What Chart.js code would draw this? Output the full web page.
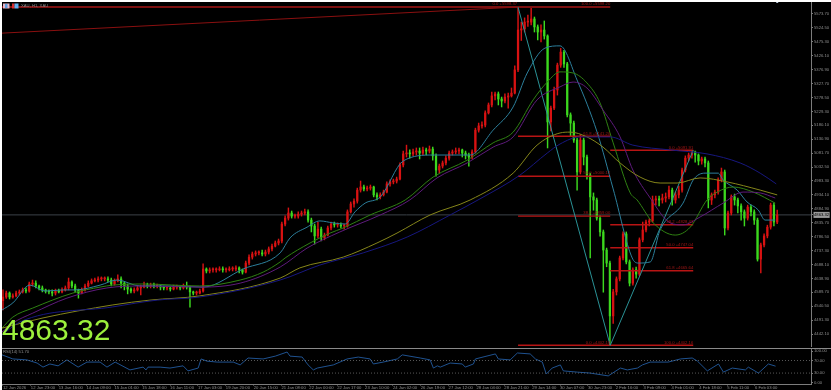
<!DOCTYPE html>
<html>
<head>
<meta charset="utf-8">
<title>XAU H1</title>
<script src="https://cdn.jsdelivr.net/npm/chart.js@4/dist/chart.umd.min.js"></script>
<style>
html, body { margin: 0; padding: 0; background: #fff; overflow: hidden; }
#frame { position: absolute; left: 2px; top: 2px; width: 829px; height: 388px; background: #000; }
#main-wrap { position: absolute; left: 0; top: 0; width: 829px; height: 345px; }
#rsi-wrap { position: absolute; left: 0; top: 347px; width: 829px; height: 41px; }
.sep { position: absolute; left: 0; top: 345.5px; width: 829px; height: 1.5px; background: #8a8a8a; }
</style>
</head>
<body>
<div id="frame">
    <div id="main-wrap"><canvas id="main-chart" width="829" height="345"></canvas></div>
    <div class="sep"></div>
    <div id="rsi-wrap"><canvas id="rsi-chart" width="829" height="41"></canvas></div>
</div>
<script>
// one candle per slot
const opens = [4560,4573,4587,4573,4577,4587,4591,4598,4594,4619,4622,4612,4605,4598,4594,4591,4587,4594,4591,4598,
4605,4626,4612,4598,4587,4598,4612,4622,4630,4633,4637,4637,4637,4633,4619,4630,4637,4622,4612,4601,
4594,4598,4605,4608,4615,4612,4615,4612,4612,4608,4605,4605,4601,4608,4608,4605,4612,4608,4591,4587,
4587,4594,4672,4665,4669,4669,4669,4672,4669,4669,4672,4672,4676,4669,4661,4693,4714,4725,4729,4729,
4725,4732,4743,4753,4764,4771,4831,4852,4870,4859,4859,4866,4870,4874,4845,4824,4789,4813,4782,4792,
4817,4831,4828,4828,4824,4824,4874,4902,4912,4951,4962,4955,4958,4962,4934,4927,4934,4944,4973,4980,
4983,4990,5040,5079,5082,5079,5086,5089,5082,5093,5089,5096,5072,5022,5036,5047,5064,5082,5086,5089,
5093,5082,5075,5068,5086,5163,5178,5181,5224,5252,5284,5291,5273,5266,5280,5284,5294,5376,5517,5521,
5545,5545,5556,5528,5510,5517,5496,5192,5241,5305,5393,5439,5397,5217,5188,5128,5015,5128,5068,5004,
4927,4916,4852,4803,4739,4693,4506,4591,4637,4711,4796,4697,4622,4669,4654,4775,4810,4838,4842,4916,
4920,4916,4923,4927,4951,4916,4934,4951,5022,5064,5075,5086,5075,5054,5061,5047,4916,4934,4944,4987,
5015,4817,4870,4927,4916,4895,4874,4852,4891,4874,4845,4707,4757,4789,4820,4898,4838];
const highs = [4598,4594,4591,4584,4594,4598,4605,4605,4626,4633,4630,4615,4612,4601,4598,4598,4601,4601,4605,4612,
4640,4630,4619,4601,4605,4619,4630,4637,4640,4644,4644,4644,4644,4640,4637,4651,4644,4626,4619,4605,
4605,4612,4615,4626,4622,4622,4622,4619,4615,4612,4612,4608,4615,4615,4612,4619,4626,4612,4594,4594,
4601,4690,4676,4676,4676,4676,4680,4680,4676,4680,4680,4683,4680,4672,4700,4722,4732,4736,4736,4739,
4739,4750,4760,4771,4778,4838,4860,4888,4877,4866,4874,4877,4884,4881,4852,4831,4838,4820,4799,4824,
4838,4838,4835,4835,4831,4881,4909,4920,4958,4983,4969,4965,4969,4965,4941,4941,4951,4980,4987,4990,
4997,5047,5089,5110,5093,5096,5100,5100,5103,5100,5107,5103,5079,5043,5054,5072,5089,5093,5100,5100,
5096,5089,5082,5093,5170,5188,5192,5231,5259,5298,5298,5298,5280,5291,5294,5312,5390,5598,5545,5560,
5570,5598,5563,5535,5535,5549,5500,5248,5315,5400,5452,5445,5403,5224,5195,5135,5146,5135,5075,5011,
4941,4923,4860,4810,4746,4700,4600,4644,4718,4803,4803,4704,4676,4679,4782,4838,4845,4849,4930,4930,
4930,4937,4941,4965,4958,4944,4965,5029,5072,5082,5092,5089,5079,5068,5068,5054,4941,4951,4994,5029,
5022,4877,4934,4937,4923,4902,4881,4898,4898,4881,4852,4764,4796,4827,4905,4905,4880];
const lows = [4527,4568,4566,4569,4573,4580,4587,4587,4590,4612,4605,4598,4591,4587,4584,4577,4580,4587,4587,4594,
4598,4605,4591,4569,4584,4594,4608,4619,4626,4626,4630,4630,4626,4612,4615,4626,4605,4598,4584,4587,
4587,4594,4580,4605,4605,4605,4605,4605,4598,4598,4598,4594,4598,4601,4598,4601,4601,4537,4580,4580,
4584,4590,4658,4658,4661,4661,4665,4661,4661,4665,4665,4665,4658,4654,4658,4686,4707,4718,4722,4718,
4718,4725,4736,4750,4757,4764,4824,4845,4852,4852,4852,4859,4863,4838,4803,4760,4782,4771,4775,4789,
4810,4820,4820,4817,4813,4820,4870,4891,4905,4944,4948,4948,4951,4927,4916,4920,4930,4941,4965,4973,
4976,4987,5033,5068,5064,5072,5075,5061,5075,5075,5082,5057,5000,5011,5029,5040,5057,5075,5079,5079,
5068,5061,5036,5061,5082,5156,5170,5174,5220,5245,5270,5252,5245,5259,5241,5280,5291,5370,5480,5510,
5530,5535,5510,5482,5475,5485,5100,5160,5235,5287,5385,5385,5210,5140,5120,4951,5008,5040,4990,4711,
4880,4845,4788,4590,4680,4402,4480,4580,4630,4704,4690,4612,4615,4640,4648,4768,4803,4824,4838,4898,
4895,4905,4909,4920,4898,4905,4923,4944,5015,5054,5064,5050,5040,5043,5033,4888,4900,4923,4937,4980,
4792,4810,4863,4898,4870,4845,4824,4845,4860,4830,4700,4658,4750,4782,4813,4824,4832];
const closes = [4573,4587,4573,4577,4587,4591,4598,4594,4619,4622,4612,4605,4598,4594,4591,4587,4594,4591,4598,4605,
4626,4612,4598,4587,4598,4612,4622,4630,4633,4637,4637,4637,4633,4619,4630,4637,4622,4612,4601,4594,
4598,4605,4608,4615,4612,4615,4612,4612,4608,4605,4605,4601,4608,4608,4605,4612,4608,4591,4587,4587,
4594,4672,4665,4669,4669,4669,4672,4669,4669,4672,4672,4676,4669,4661,4693,4714,4725,4729,4729,4725,
4732,4743,4753,4764,4771,4831,4852,4870,4859,4859,4866,4870,4874,4845,4824,4789,4813,4782,4792,4817,
4831,4828,4828,4824,4824,4874,4902,4912,4951,4962,4955,4958,4962,4934,4927,4934,4944,4973,4980,4983,
4990,5040,5079,5082,5079,5086,5089,5082,5093,5089,5096,5072,5022,5036,5047,5064,5082,5086,5089,5093,
5082,5075,5068,5086,5163,5178,5181,5224,5252,5284,5291,5273,5266,5280,5284,5294,5376,5517,5521,5545,
5545,5556,5528,5510,5517,5496,5192,5241,5305,5393,5439,5397,5217,5188,5128,5015,5128,5068,5004,4927,
4916,4852,4803,4739,4693,4506,4591,4637,4711,4796,4697,4622,4669,4654,4775,4810,4838,4842,4916,4920,
4916,4923,4927,4951,4916,4934,4951,5022,5064,5075,5086,5075,5054,5061,5047,4916,4934,4944,4987,5015,
4817,4870,4927,4916,4895,4874,4852,4891,4874,4845,4707,4757,4789,4820,4898,4838,4863];

// moving averages: slot position and price at each point read
const fastBars = [-0.3,3,8.2,12.8,18.3,22,29.6,34.8,41.8,51.8,61,73.2,84.5,87.5,92.7,96.6,100.6,104.3,107.3,110.4,115,122,131,142.4,149.4,155.5,159.8,165.2,169.8,175,181.1,186,191.8,193.6,197.3,200.3,207.3,210.4,214,218,219.5,223.8,226.8,230.2,232.3,235.4];
const fastValues = [4527,4552,4615,4594,4598,4598,4615,4633,4612,4612,4608,4672,4729,4782,4820,4842,4835,4831,4874,4905,4927,5054,5075,5075,5163,5245,5365,5453,5461,5340,5156,4955,4711,4693,4697,4810,4905,4987,5011,5011,4987,4951,4909,4881,4845,4845];
const greenBars = [-0.3,3,9.1,21.3,29.6,33.5,42.7,60,72.3,79.3,84.5,86,93.6,99.7,103.7,111.9,122.6,131.1,141.5,149.4,155.5,161.6,165.9,169.8,173.8,178,182,186,191.2,193.3,198.2,204.9,209.5,214.6,217.7,222.6,228.7,235.4];
const greenValues = [4463,4502,4534,4587,4608,4615,4619,4612,4633,4661,4697,4711,4764,4799,4817,4863,4916,4997,5057,5118,5156,5270,5333,5369,5365,5330,5259,5118,4941,4916,4835,4792,4820,4916,4944,4962,4944,4905];
const purpleBars = [-0.3,3,9.1,19.5,31.7,42.7,60,72.3,84.5,92.7,102.7,115,124,132.3,141.5,149.4,155.5,162.8,169.8,173.8,178,182.9,188.1,192,197.3,203.4,207.3,212.5,219.5,225.6,230.8,235.4];
const purpleValues = [4449,4481,4516,4569,4605,4612,4608,4622,4679,4746,4803,4863,4916,4994,5047,5103,5139,5270,5316,5333,5312,5234,5139,5022,4923,4835,4828,4856,4905,4944,4941,4923];
const oliveBars = [-0.3,12.2,33.5,44.8,60,84.5,90.5,103.7,114,120.1,130.2,142.4,155.5,162.8,169.8,172.9,178,182.9,188.1,194.2,200.3,205.5,212.5,220.7,230.8,236];
const oliveValues = [4463,4499,4545,4562,4577,4640,4676,4714,4764,4799,4863,4916,5011,5110,5153,5156,5139,5103,5047,4997,4976,4976,4994,4980,4951,4934];
const navyBars = [-0.3,5.2,33.5,47,60,84.5,96.6,109.8,123.2,136.3,145.4,157.6,165.9,169.8,175.9,185.1,192,203.4,214.6,224.7,230.8,235.7];
const navyValues = [4439,4485,4538,4562,4573,4633,4686,4729,4785,4863,4920,5004,5082,5114,5139,5139,5110,5093,5079,5047,5011,4973];

const zigzagBars = [157,185.1,210.4];
const zigzagValues = [5598,4402,5092];
const trendBars = [-0.3,156.7];
const trendValues = [5506,5598];

// fibonacci levels: from slot, to slot, price, text
const fibFrom = [-0.3,157,157,157,157,185.1,185.1,185.1,185.1];
const fibTo = [185.1,185.1,185.1,185.1,210.4,210.4,210.4,210.4,210.4];
const fibPrices = [5598.37,5141.2,5000.12,4859,4402.16,5091.91,4828.43,4747.04,4665.64];
const fibTexts = ['100.0 +5598.20','61.8 +5141.20','50.0 +5000.12','38.2 +4859.00','100.0 +4402.16','0.0 +5091.91','38.2 +4828.43','50.0 +4747.04','61.8 +4665.64'];
const extraFibBars = [156.7,185.1];
const extraFibPrices = [5598.37,4402.16];
const extraFibTexts = ['0.0 +5598.37','0.0 +4402.16'];

const lastPrice = 4863.32;
const priceTicks = [5573.7,5524.5,5475.3,5426.1,5376.9,5327.7,5278.5,5229.3,5180.1,5130.9,5081.7,5032.5,4983.3,4934.1,4884.9,4835.7,4786.5,4737.3,4688.1,4638.9,4589.7,4540.5,4491.3,4442.1];

const rsiBars = [-0.3,3,7.3,10.4,12.2,14.3,16.8,19.5,22.9,25.6,29.6,31.7,34.2,38.7,42.7,43.6,44.2,47.9,50.9,54.9,56.4,59.5,60.4,62.2,65.3,70.2,72.3,74.7,79.3,83,86.6,87.5,91.2,93,94.6,95.8,100.7,104.9,108.3,111.9,112.9,115.9,120.2,121.7,127.2,130.2,131.2,132.4,133.3,136.3,140,140.9,143.4,144,150.1,151,154.6,156.8,160.7,162.3,164.4,165.6,167.4,169.9,170.8,175.1,179,184.5,188.2,190.3,193.4,194.9,197.3,202.8,206.5,210.1,211.7,214.7,218.1,219.6,222.3,226.3,227.2,230.3,233.3,235.5];
const rsiValues = [88,75,72,62,49,59,53,72,49,65,65,49,65,40,49,40,49,49,46,53,37,46,75,68,65,65,56,78,75,84,97,84,81,56,40,46,56,75,81,75,59,65,75,88,78,72,46,53,49,62,59,49,59,75,91,75,72,94,91,75,65,27,46,56,37,33,30,21,46,40,46,56,65,65,75,78,68,37,59,33,46,40,49,30,59,52];
const rsiLevels = [70,30];
const rsiTicks = [100,70,30,0];

const timeLabels = ['12 Jan 2026','12 Jan 23:00','13 Jan 16:00','14 Jan 09:00','15 Jan 01:00','15 Jan 18:00','16 Jan 11:00','17 Jan 03:00','19 Jan 20:00','20 Jan 15:00','21 Jan 08:00','22 Jan 00:00','22 Jan 17:00','23 Jan 10:00','24 Jan 02:00','26 Jan 19:00','27 Jan 12:00','28 Jan 04:00','28 Jan 21:00','29 Jan 14:00','30 Jan 07:00','30 Jan 23:00','2 Feb 16:00','3 Feb 09:00','4 Feb 01:00','4 Feb 18:00','5 Feb 11:00','6 Feb 03:00'];

const SLOT_MIN = -0.3;
const SLOT_MAX = 246.3;
const LABEL_STEP = 8.49;
const AXIS_WIDTH = 20;
const UP = '#d81212';
const DOWN = '#3cd81e';
const TEXT = '#8e8e8e';
const AXIS = '#7c7c7c';
const FIB = '#b81414';
const SMALL_FONT = {family: '"Liberation Sans"', size: 4.2};

function points(bars, values) {
    return bars.map((x, i) => ({x: x, y: values[i]}));
}

function maLine(bars, values, color) {
    return {
        type: 'line',
        data: points(bars, values),
        borderColor: color,
        borderWidth: 1,
        pointRadius: 0,
        cubicInterpolationMode: 'monotone',
        order: 1
    };
}

function straight(data, color, width, order) {
    return {type: 'line', data: data, borderColor: color, borderWidth: width, pointRadius: 0, order: order};
}

// chart.js keeps room for half a tick label, the axes here have to fill the panel
function noPadding(axis) {
    axis.paddingTop = 0;
    axis.paddingBottom = 0;
    axis.paddingLeft = 0;
    axis.paddingRight = 0;
}

const candleColors = closes.map((c, i) => c >= opens[i] ? UP : DOWN);

const datasets = [
    straight([{x: SLOT_MIN, y: lastPrice}, {x: SLOT_MAX, y: lastPrice}], '#3c4248', 1, 12),
    {
        data: closes.map((c, i) => ({x: i, y: [lows[i], highs[i]]})),
        backgroundColor: candleColors,
        barThickness: 0.8,
        grouped: false,
        order: 11
    },
    {
        data: closes.map((c, i) => ({x: i, y: [opens[i], c]})),
        backgroundColor: candleColors,
        barThickness: 1.6,
        grouped: false,
        minBarLength: 1,
        order: 10
    },
    maLine(navyBars, navyValues, '#17177f'),
    maLine(oliveBars, oliveValues, '#85851a'),
    maLine(purpleBars, purpleValues, '#5e1a7c'),
    maLine(greenBars, greenValues, '#2f8012'),
    maLine(fastBars, fastValues, '#2c7f9c'),
    straight(points(zigzagBars, zigzagValues), '#2a9296', 1, 2),
    straight(points(trendBars, trendValues), '#8a1010', 1, 3)
];

fibPrices.forEach((p, i) => {
    const color = i === 0 ? '#7c1010' : FIB;
    datasets.push(straight([{x: fibFrom[i], y: p}, {x: fibTo[i], y: p}], color, i === 0 ? 2 : 1.4, 3));
});

const mainOverlay = {
    id: 'mainOverlay',
    afterDraw(chart) {
        const ctx = chart.ctx;
        const xs = chart.scales.x;
        const ys = chart.scales.y;
        ctx.save();

        // fibo texts sit right above their level
        ctx.font = '4.2px "Liberation Sans"';
        ctx.fillStyle = '#a01616';
        ctx.textAlign = 'right';
        ctx.textBaseline = 'bottom';
        fibTexts.forEach((t, i) => {
            ctx.fillText(t, xs.getPixelForValue(fibTo[i]), ys.getPixelForValue(fibPrices[i]) - 0.8);
        });
        extraFibTexts.forEach((t, i) => {
            ctx.fillText(t, xs.getPixelForValue(extraFibBars[i]), ys.getPixelForValue(extraFibPrices[i]) - 0.8);
        });

        // title with the two toolbar icons
        ctx.textAlign = 'left';
        ctx.textBaseline = 'middle';
        ctx.fillStyle = '#e8b8c8';
        ctx.fillRect(1, 1.5, 6.5, 5);
        ctx.fillStyle = '#5f9fe0';
        ctx.fillRect(3, 2, 2.5, 4);
        ctx.fillStyle = '#d83030';
        ctx.fillRect(10, 1.5, 2.5, 5);
        ctx.fillStyle = '#60b0f0';
        ctx.fillRect(12.5, 1.5, 4, 5);
        ctx.fillStyle = TEXT;
        ctx.fillText('XAU, H1, XAU', 19, 4);

        // small marker above the last bar
        ctx.fillStyle = '#b8c8d8';
        ctx.fillRect(xs.getPixelForValue(236) - 1, 0, 2, 1);

        // last price overlay
        ctx.font = '30px "Liberation Sans"';
        ctx.fillStyle = '#9cf03c';
        ctx.textBaseline = 'alphabetic';
        ctx.fillText(lastPrice.toFixed(2), 0, 338);
        ctx.restore();
    }
};

new Chart(document.getElementById('main-chart'), {
    type: 'bar',
    data: {datasets: datasets},
    plugins: [mainOverlay],
    options: {
        responsive: false,
        animation: false,
        events: [],
        layout: {padding: 0},
        plugins: {legend: {display: false}, tooltip: {enabled: false}},
        scales: {
            x: {type: 'linear', display: false, offset: false, min: SLOT_MIN, max: SLOT_MAX},
            y: {
                position: 'right',
                min: 4396.2,
                max: 5616.1,
                afterBuildTicks: axis => {
                    axis.ticks = priceTicks.concat(lastPrice).map(v => ({value: v}));
                },
                afterFit: axis => {
                    axis.width = AXIS_WIDTH;
                    noPadding(axis);
                },
                grid: {drawOnChartArea: false, tickLength: 2, color: AXIS},
                border: {display: true, color: AXIS},
                ticks: {
                    autoSkip: false,
                    padding: 1,
                    font: SMALL_FONT,
                    color: ctx => ctx.tick.value === lastPrice ? '#000' : TEXT,
                    showLabelBackdrop: ctx => ctx.tick.value === lastPrice,
                    backdropColor: '#9a9a9a',
                    backdropPadding: 0.5,
                    callback: v => v.toFixed(2)
                }
            }
        }
    }
});

const rsiOverlay = {
    id: 'rsiOverlay',
    afterDraw(chart) {
        const ctx = chart.ctx;
        ctx.save();
        ctx.font = '4.2px "Liberation Sans"';
        ctx.fillStyle = TEXT;
        ctx.textBaseline = 'middle';
        ctx.fillText('RSI(14) 51.70', 1, 3);
        ctx.restore();
    }
};

new Chart(document.getElementById('rsi-chart'), {
    type: 'line',
    data: {
        datasets: [
            {data: [{x: SLOT_MIN, y: rsiLevels[0]}, {x: SLOT_MAX, y: rsiLevels[0]}], borderColor: '#6e6e6e', borderWidth: 0.8, borderDash: [1, 2], pointRadius: 0},
            {data: [{x: SLOT_MIN, y: rsiLevels[1]}, {x: SLOT_MAX, y: rsiLevels[1]}], borderColor: '#6e6e6e', borderWidth: 0.8, borderDash: [1, 2], pointRadius: 0},
            {data: points(rsiBars, rsiValues), borderColor: '#1f5290', borderWidth: 1, pointRadius: 0}
        ]
    },
    plugins: [rsiOverlay],
    options: {
        responsive: false,
        animation: false,
        events: [],
        layout: {padding: 0},
        plugins: {legend: {display: false}, tooltip: {enabled: false}},
        scales: {
            x: {
                type: 'linear',
                min: SLOT_MIN,
                max: SLOT_MAX,
                afterBuildTicks: axis => {
                    axis.ticks = timeLabels.map((t, k) => ({value: k * LABEL_STEP}));
                },
                afterFit: axis => {
                    axis.height = 6;
                    noPadding(axis);
                },
                grid: {drawOnChartArea: false, tickLength: 1.5, color: AXIS},
                border: {display: true, color: AXIS},
                ticks: {
                    autoSkip: false,
                    maxRotation: 0,
                    align: 'start',
                    padding: 0,
                    font: SMALL_FONT,
                    color: TEXT,
                    callback: (v, i) => timeLabels[i]
                }
            },
            y: {
                position: 'right',
                min: -4.8,
                max: 106.7,
                afterBuildTicks: axis => {
                    axis.ticks = rsiTicks.map(v => ({value: v}));
                },
                afterFit: axis => {
                    axis.width = AXIS_WIDTH;
                    noPadding(axis);
                },
                grid: {drawOnChartArea: false, tickLength: 2, color: AXIS},
                border: {display: true, color: AXIS},
                ticks: {
                    autoSkip: false,
                    padding: 1,
                    font: SMALL_FONT,
                    color: TEXT,
                    callback: v => v.toFixed(2)
                }
            }
        }
    }
});
</script>
</body>
</html>
